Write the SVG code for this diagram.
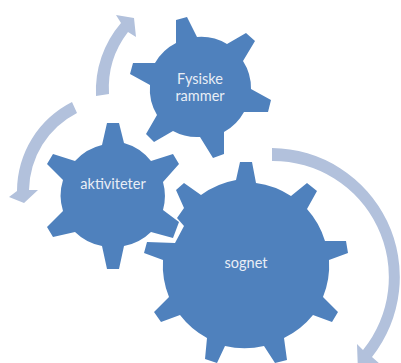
<svg xmlns="http://www.w3.org/2000/svg" width="401" height="363" viewBox="0 0 401 363">
<style>
.gear{fill:#4F81BD}
.arrow{fill:#B2C1DC}
text{font-family:Lato,"Liberation Sans",sans-serif;font-size:14.5px;fill:#E9EEF6;text-anchor:middle}
</style>
<rect width="401" height="363" fill="#fff"/>
<g id="connectors">
<path class="arrow" d="M96 96A104 104 0 0 1 121 23L116 15L134 18L136 37L128 32A92 92 0 0 0 109 94Z"/>
<path class="arrow" d="M72 102A100 100 0 0 0 17 191L9 197L24 203L38 190L29 190A88 88 0 0 1 77 113Z"/>
<path class="arrow" d="M272 148A129 129 0 0 1 372 357L380 364L358 372L357 344L363 350A116 116 0 0 0 272 161Z"/>
</g>
<g id="node-fysiske">
<path class="gear" d="M176 20L187 17L197 37A50 50 0 0 1 227 44L246 33L255 41L243 61A50 50 0 0 1 251 89L271 100L268 112L244 112A50 50 0 0 1 224 132L224 154L213 158L200 137A50 50 0 0 1 173 131L154 142L146 134L157 115A50 50 0 0 1 150 85L130 74L133 63L155 63A50 50 0 0 1 176 43Z"/>
<text x="200" y="84">Fysiske</text>
<text x="200" y="101">rammer</text>
</g>
<g id="node-aktiviteter">
<path class="gear" d="M107 123L119 123L124 143A52 52 0 0 1 151 161L173 154L179 164L163 182A52 52 0 0 1 163 210L179 222L173 238L151 232A52 52 0 0 1 124 246L119 269L107 269L102 246A52 52 0 0 1 75 232L53 237L47 227L63 211A52 52 0 0 1 63 180L47 164L53 154L75 161A52 52 0 0 1 102 145Z"/>
<text x="113" y="189">aktiviteter</text>
</g>
<g id="node-sognet">
<path class="gear" d="M240 162L252 162L256 183A84 84 0 0 1 291 196L307 183L317 191L307 209A84 84 0 0 1 325 241L346 241L348 253L329 260A84 84 0 0 1 323 297L338 312L332 322L313 315A84 84 0 0 1 284 338L287 360L275 363L264 346A84 84 0 0 1 225 346L217 363L205 359L207 338A84 84 0 0 1 180 315L161 322L154 312L169 297A84 84 0 0 1 163 260L144 253L147 242L175 243L184 226L177 218L184 208L176 190L184 183L201 195A84 84 0 0 1 236 180Z"/>
<text x="246" y="268">sognet</text>
</g>
</svg>
